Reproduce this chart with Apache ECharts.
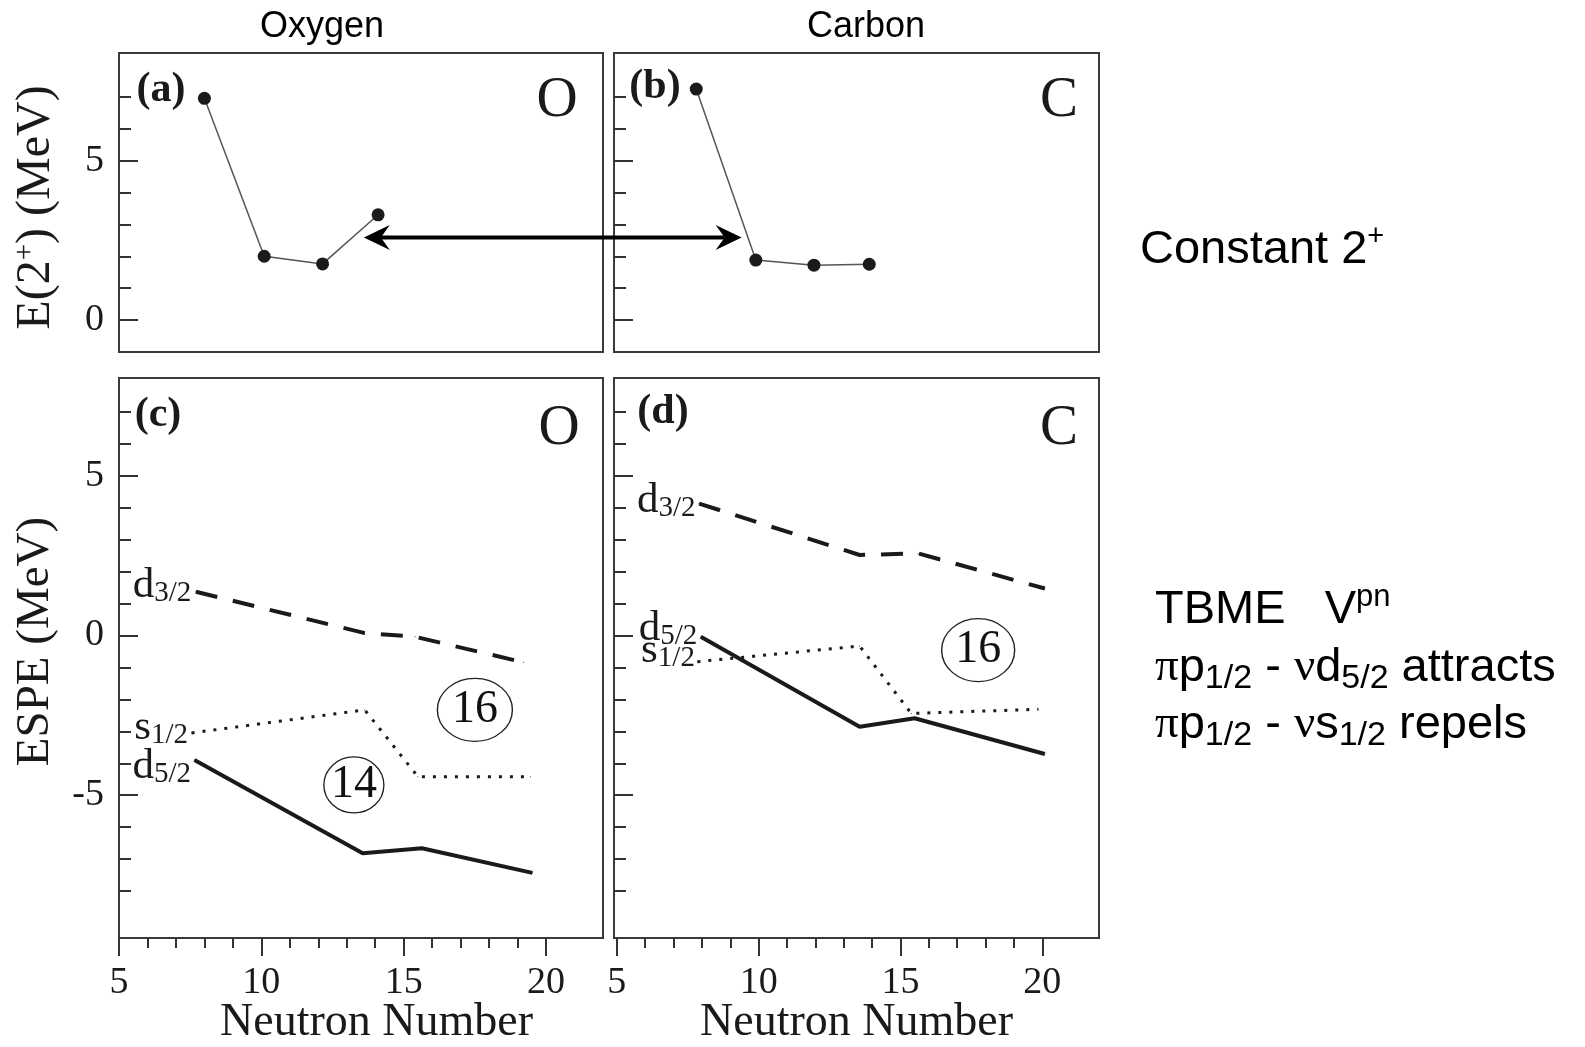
<!DOCTYPE html>
<html>
<head>
<meta charset="utf-8">
<script src="https://cdn.jsdelivr.net/npm/echarts@6/dist/echarts.min.js"></script>
<style>
html,body{margin:0;padding:0;background:#fff;}
#c{width:1585px;height:1047px;}
</style>
</head>
<body>
<div id="c"></div>
<script>
// ---------------- data ----------------
const xTicksMajor = [5, 10, 15, 20];
const xTicksMinor = [6, 7, 8, 9, 11, 12, 13, 14, 16, 17, 18, 19];
const yTopMajor = [0, 5];
const yTopMinor = [1, 2, 3, 4, 6, 7];
const yBotMajor = [-5, 0, 5];
const yBotMinor = [-8, -7, -6, -4, -3, -2, -1, 1, 2, 3, 4, 6, 7];

// E(2+) panels (a) oxygen, (b) carbon
const O_E2_N = [8.0, 10.1, 12.15, 14.1];
const O_E2   = [6.95, 2.0, 1.76, 3.3];
const C_E2_N = [7.8, 9.9, 11.95, 13.9];
const C_E2   = [7.24, 1.88, 1.72, 1.75];

// ESPE panels (c) oxygen, (d) carbon : [neutron number, MeV]
const O_d32 = [[7.7, 1.37], [13.6, 0.08], [15.4, -0.04], [19.2, -0.84]];
const O_s12 = [[7.55, -3.05], [13.63, -2.33], [15.5, -4.42], [19.45, -4.42]];
const O_d52 = [[7.65, -3.9], [13.56, -6.82], [15.64, -6.66], [19.52, -7.43]];
const C_d32 = [[7.9, 4.13], [13.56, 2.52], [15.62, 2.57], [20.09, 1.47]];
const C_s12 = [[7.84, -0.82], [13.56, -0.33], [15.38, -2.44], [19.86, -2.31]];
const C_d52 = [[7.96, -0.04], [13.56, -2.86], [15.5, -2.59], [20.09, -3.71]];

// circled gap numbers: [N, MeV, text]
const O_gaps = [[17.5, -2.33, '16'], [13.25, -4.68, '14']];
const C_gaps = [[17.74, -0.46, '16']];

// double arrow between (a) and (b): [N, MeV]
const ARROW_FROM = [13.6, 2.59];
const ARROW_TO   = [9.4, 2.59];

// ---------------- styling ----------------
const SERIF = '"Liberation Serif", "Times New Roman", serif';
const SANS  = '"Liberation Sans", Arial, Helvetica, sans-serif';
const INK = '#1a1a1a';
const AX = '#333';

const CIRCLE_SIZE_O = [[75, 63], [60, 56]];
const CIRCLE_SIZE_C = [[73, 63]];

const chart = echarts.init(document.getElementById('c'), null, {renderer: 'canvas'});

const gridBase = {show: true, borderColor: '#3a3a3a', borderWidth: 2, backgroundColor: 'rgba(0,0,0,0)',
                  containLabel: false, outerBoundsMode: 'none'};
const grids = [
  Object.assign({left: 119, top: 53, width: 484, height: 299}, gridBase),
  Object.assign({left: 614, top: 53, width: 485, height: 299}, gridBase),
  Object.assign({left: 119, top: 378, width: 484, height: 560}, gridBase),
  Object.assign({left: 614, top: 378, width: 485, height: 560}, gridBase)
];

function baseAxis(extra) {
  return Object.assign({
    type: 'value',
    axisLine: {show: false, onZero: false},
    splitLine: {show: false},
    axisTick: {show: false},
    axisLabel: {show: false},
    nameMoveOverlap: false
  }, extra);
}
const tickStyle = {color: AX, width: 2};
const labelStyle = {fontFamily: SERIF, fontSize: 38, color: INK, lineHeight: 40};
const nameX = {fontFamily: SERIF, fontSize: 46, color: INK, lineHeight: 48};

const xAxes = [
  baseAxis({gridIndex: 0, min: 5, max: 22, position: 'bottom'}),
  baseAxis({gridIndex: 1, min: 4.9, max: 22, position: 'bottom'}),
  baseAxis({gridIndex: 2, min: 5, max: 22, position: 'bottom',
    axisTick: {show: true, customValues: xTicksMajor, length: 18, lineStyle: tickStyle},
    axisLabel: Object.assign({show: true, customValues: xTicksMajor, margin: 25}, labelStyle),
    name: 'Neutron Number', nameLocation: 'middle', nameGap: 61,
    nameTextStyle: Object.assign({padding: [0, 0, 0, 31]}, nameX)}),
  baseAxis({gridIndex: 2, min: 5, max: 22, position: 'bottom',
    axisTick: {show: true, customValues: xTicksMinor, length: 10, lineStyle: tickStyle}}),
  baseAxis({gridIndex: 3, min: 4.9, max: 22, position: 'bottom',
    axisTick: {show: true, customValues: xTicksMajor, length: 18, lineStyle: tickStyle},
    axisLabel: Object.assign({show: true, customValues: xTicksMajor, margin: 25}, labelStyle),
    name: 'Neutron Number', nameLocation: 'middle', nameGap: 61,
    nameTextStyle: Object.assign({padding: [0, 0, 0, 0]}, nameX)}),
  baseAxis({gridIndex: 3, min: 4.9, max: 22, position: 'bottom',
    axisTick: {show: true, customValues: xTicksMinor, length: 10, lineStyle: tickStyle}})
];

const yNameRich = {
  a: {fontFamily: SERIF, fontSize: 48, lineHeight: 50, color: INK},
  p: {fontFamily: SERIF, fontSize: 29, lineHeight: 25, verticalAlign: 'top', color: INK},
  e: {fontFamily: SERIF, fontSize: 47, lineHeight: 50, color: INK}
};

const TOP_MIN = -1, TOP_MAX = 8.37, BOT_MIN = -9.47, BOT_MAX = 8.06;
const yAxes = [
  baseAxis({gridIndex: 0, min: TOP_MIN, max: TOP_MAX, position: 'left',
    axisTick: {show: true, inside: true, customValues: yTopMajor, length: 19, lineStyle: tickStyle},
    axisLabel: Object.assign({show: true, customValues: yTopMajor, margin: 15}, labelStyle),
    name: '{a|E(2}{p|+}{a|) (MeV)}', nameLocation: 'middle', nameGap: 58, nameRotate: 90,
    nameTextStyle: {rich: yNameRich, padding: [0, 10, 0, 0]}}),
  baseAxis({gridIndex: 0, min: TOP_MIN, max: TOP_MAX, position: 'left',
    axisTick: {show: true, inside: true, customValues: yTopMinor, length: 12, lineStyle: tickStyle}}),
  baseAxis({gridIndex: 1, min: TOP_MIN, max: TOP_MAX, position: 'left',
    axisTick: {show: true, inside: true, customValues: yTopMajor, length: 19, lineStyle: tickStyle}}),
  baseAxis({gridIndex: 1, min: TOP_MIN, max: TOP_MAX, position: 'left',
    axisTick: {show: true, inside: true, customValues: yTopMinor, length: 12, lineStyle: tickStyle}}),
  baseAxis({gridIndex: 2, min: BOT_MIN, max: BOT_MAX, position: 'left',
    axisTick: {show: true, inside: true, customValues: yBotMajor, length: 19, lineStyle: tickStyle},
    axisLabel: Object.assign({show: true, customValues: yBotMajor, margin: 15}, labelStyle),
    name: '{e|ESPE (MeV)}', nameLocation: 'middle', nameGap: 58, nameRotate: 90,
    nameTextStyle: {rich: yNameRich, padding: [0, 0, 0, 33]}}),
  baseAxis({gridIndex: 2, min: BOT_MIN, max: BOT_MAX, position: 'left',
    axisTick: {show: true, inside: true, customValues: yBotMinor, length: 12, lineStyle: tickStyle}}),
  baseAxis({gridIndex: 3, min: BOT_MIN, max: BOT_MAX, position: 'left',
    axisTick: {show: true, inside: true, customValues: yBotMajor, length: 19, lineStyle: tickStyle}}),
  baseAxis({gridIndex: 3, min: BOT_MIN, max: BOT_MAX, position: 'left',
    axisTick: {show: true, inside: true, customValues: yBotMinor, length: 12, lineStyle: tickStyle}})
];

function pairs(xs, ys) { return xs.map((x, i) => [x, ys[i]]); }

function e2Series(xi, yi, xs, ys) {
  return {
    type: 'line', xAxisIndex: xi, yAxisIndex: yi, data: pairs(xs, ys),
    symbol: 'circle', symbolSize: 13, itemStyle: {color: INK},
    lineStyle: {color: '#555', width: 1.5}, emphasis: {disabled: true}, silent: true, z: 3
  };
}

const ORB_RICH = {
  m: {fontFamily: SERIF, fontSize: 43, lineHeight: 44, color: INK},
  s: {fontFamily: SERIF, fontSize: 29, lineHeight: 17, verticalAlign: 'bottom', color: INK}
};

function levelSeries(xi, yi, pts, lineStyle, lbl) {
  return {
    type: 'line', xAxisIndex: xi, yAxisIndex: yi,
    symbol: 'circle', symbolSize: 1, itemStyle: {color: INK},
    lineStyle: lineStyle, emphasis: {disabled: true}, silent: true, z: 3,
    data: pts.map((p, i) => i === 0 ? {
      value: p,
      label: {show: true, position: 'left', distance: lbl.dist, offset: [0, lbl.dy],
              formatter: lbl.text, rich: ORB_RICH}
    } : {value: p})
  };
}

const DASHED = {color: INK, width: 4, type: [22, 16]};
const DOTTED = {color: INK, width: 3, type: [3, 8]};
const SOLID  = {color: INK, width: 4, type: 'solid'};

function gapSeries(xi, yi, gaps, sizes) {
  return {
    type: 'scatter', xAxisIndex: xi, yAxisIndex: yi, symbol: 'circle', silent: true, z: 4,
    itemStyle: {color: 'rgba(255,255,255,0)', borderColor: '#222', borderWidth: 1.3, opacity: 1},
    emphasis: {disabled: true},
    data: gaps.map((g, i) => ({name: g[2], value: [g[0], g[1]], symbolSize: sizes[i]})),
    label: {show: true, position: 'inside', formatter: '{b}', fontFamily: SERIF, fontSize: 46,
            color: '#111', opacity: 1}
  };
}

const series = [
  e2Series(0, 0, O_E2_N, O_E2),
  e2Series(1, 2, C_E2_N, C_E2),
  levelSeries(2, 4, O_d32, DASHED, {text: '{m|d}{s|3/2}', dist: 4, dy: -6}),
  levelSeries(2, 4, O_s12, DOTTED, {text: '{m|s}{s|1/2}', dist: 3, dy: -5}),
  levelSeries(2, 4, O_d52, SOLID,  {text: '{m|d}{s|5/2}', dist: 3, dy: 7}),
  levelSeries(4, 6, C_d32, DASHED, {text: '{m|d}{s|3/2}', dist: 3, dy: -3}),
  levelSeries(4, 6, C_s12, DOTTED, {text: '{m|s}{s|1/2}', dist: 2, dy: -11}),
  levelSeries(4, 6, C_d52, SOLID,  {text: '{m|d}{s|5/2}', dist: 3, dy: -8}),
  gapSeries(2, 4, O_gaps, CIRCLE_SIZE_O),
  gapSeries(4, 6, C_gaps, CIRCLE_SIZE_C)
];

chart.setOption({
  animation: false,
  backgroundColor: '#fff',
  grid: grids,
  xAxis: xAxes,
  yAxis: yAxes,
  series: series
});

// ---------------- annotations ----------------
function txt(id, x, y, text, style) {
  return {type: 'text', id: id, x: x, y: y, z: 50,
    style: Object.assign({text: text, fill: '#000', align: 'center', verticalAlign: 'middle'}, style)};
}
const panelFont = {fontFamily: SERIF, fontSize: 42, fontWeight: 'bold', fill: INK};
const elemFont = {fontFamily: SERIF, fontSize: 57, fill: INK};
const rightRich = {
  n: {fontFamily: SANS, fontSize: 47, lineHeight: 56, fill: '#000'},
  g: {fontFamily: SERIF, fontSize: 47, lineHeight: 56, fill: '#000'},
  s: {fontFamily: SANS, fontSize: 34, lineHeight: 23, verticalAlign: 'bottom', fill: '#000'},
  p: {fontFamily: SANS, fontSize: 31, lineHeight: 19, verticalAlign: 'top', fill: '#000'},
  q: {fontFamily: SANS, fontSize: 29, lineHeight: 37, verticalAlign: 'top', fill: '#000'}
};

const a = chart.convertToPixel({xAxisIndex: 0, yAxisIndex: 0}, ARROW_FROM);
const b = chart.convertToPixel({xAxisIndex: 1, yAxisIndex: 2}, ARROW_TO);
const AH = 26, AW = 12.5, AN = 17;

const graphics = [
  txt('t-oxy', 322, 27, 'Oxygen', {fontFamily: SANS, fontSize: 36}),
  txt('t-car', 866, 27, 'Carbon', {fontFamily: SANS, fontSize: 36}),
  txt('p-a', 161, 90, '(a)', panelFont),
  txt('p-b', 655, 87, '(b)', panelFont),
  txt('p-c', 158, 415, '(c)', panelFont),
  txt('p-d', 663, 412, '(d)', panelFont),
  txt('e-a', 557, 101, 'O', elemFont),
  txt('e-b', 1059, 101, 'C', elemFont),
  txt('e-c', 559, 429, 'O', elemFont),
  txt('e-d', 1059, 429, 'C', elemFont),
  txt('r-const', 1140, 250, '{n|Constant 2}{q|+}', {align: 'left', rich: rightRich}),
  txt('r-l1', 1155, 610, '{n|TBME   V}{p|pn}', {align: 'left', rich: rightRich}),
  txt('r-l2', 1155, 668, '{g|π}{n|p}{s|1/2}{n| - }{g|ν}{n|d}{s|5/2}{n| attracts}', {align: 'left', rich: rightRich}),
  txt('r-l3', 1155, 725, '{g|π}{n|p}{s|1/2}{n| - }{g|ν}{n|s}{s|1/2}{n| repels}', {align: 'left', rich: rightRich}),
  {type: 'line', id: 'arr-line', z: 60,
    shape: {x1: a[0] + AN, y1: a[1], x2: b[0] - AN, y2: b[1]},
    style: {stroke: '#000', lineWidth: 4}},
  {type: 'polygon', id: 'arr-l', z: 61,
    shape: {points: [[a[0], a[1]], [a[0] + AH, a[1] - AW], [a[0] + AN, a[1]], [a[0] + AH, a[1] + AW]]},
    style: {fill: '#000'}},
  {type: 'polygon', id: 'arr-r', z: 61,
    shape: {points: [[b[0], b[1]], [b[0] - AH, b[1] - AW], [b[0] - AN, b[1]], [b[0] - AH, b[1] + AW]]},
    style: {fill: '#000'}}
];

chart.setOption({graphic: graphics});
</script>
</body>
</html>
